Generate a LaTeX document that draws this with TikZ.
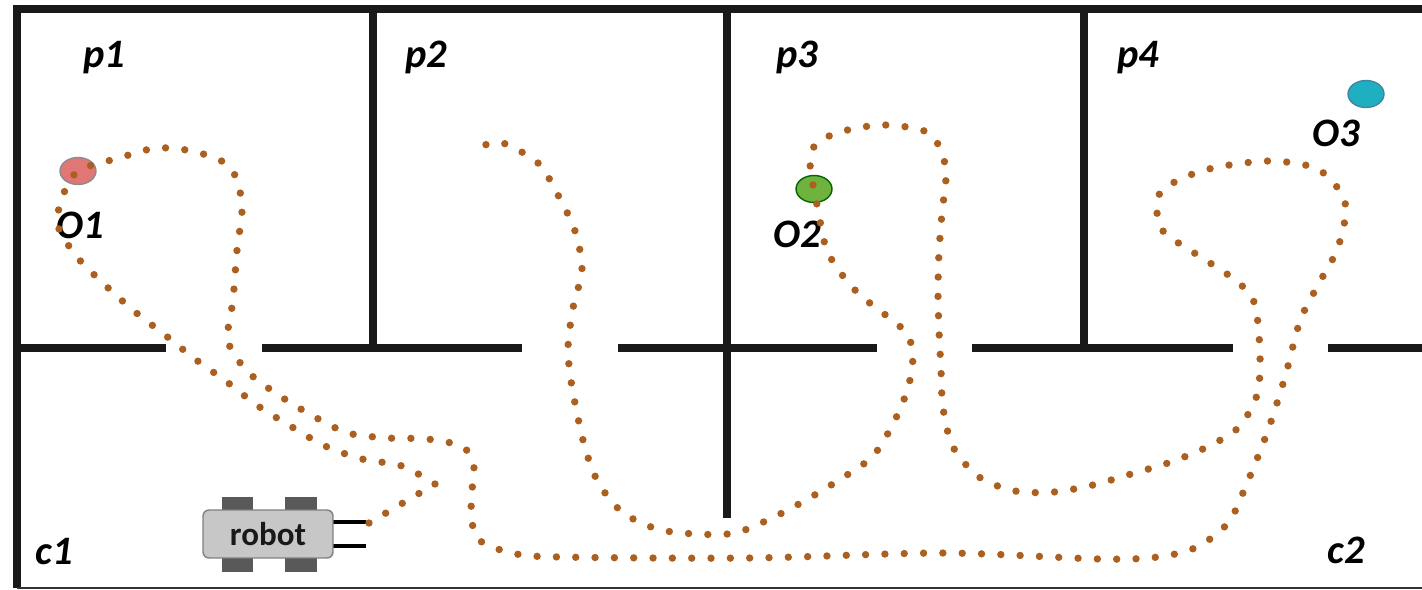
\documentclass[tikz,border=0pt]{standalone}
\usepackage{fontspec}
\setmainfont{Carlito}
\usetikzlibrary{positioning,shapes.geometric}

\definecolor{trailbrown}{RGB}{172,96,32}
\definecolor{o1red}{RGB}{224,118,118}
\definecolor{o2green}{RGB}{112,178,62}
\definecolor{o3cyan}{RGB}{30,176,192}

\begin{document}
\begin{tikzpicture}[x=0.02cm, y=-0.02cm,
  wall/.style={line width=4.6pt, color=black!90},
  tag/.style={font=\fontsize{23}{24}\selectfont\bfseries\itshape, inner sep=0pt, anchor=base west},
  obj/.style={ellipse, draw, line width=0.8pt, minimum width=0.72cm, minimum height=0.54cm, inner sep=0pt},
  trail/.style={line width=4.2pt, line cap=round, dash pattern=on 0pt off 11pt, color=trailbrown},
  wheel/.style={fill=black!65}]

\fill[white] (0,0) rectangle (1422,590);
\useasboundingbox (0,0) rectangle (1422,590);

% outer walls
\draw[wall, line join=miter] (17,588) -- (17,9) -- (1422,9);
\draw[line width=1.2pt, black!80] (17,588) -- (1422,588);

% room walls
\draw[wall] (373,9) -- (373,348);
\draw[wall] (727,9) -- (727,518);
\draw[wall] (1084,9) -- (1084,348);
\draw[wall] (17,348) -- (166,348);
\draw[wall] (262,348) -- (522,348);
\draw[wall] (618,348) -- (877,348);
\draw[wall] (972,348) -- (1233,348);
\draw[wall] (1328,348) -- (1422,348);

% room and corridor names
\node[tag] (p1) at (83,68) {p1};
\node[tag] (p2) at (405,68) {p2};
\node[tag] (p3) at (776,68) {p3};
\node[tag] (p4) at (1117,68) {p4};
\node[tag] (c1) at (35,564) {c1};
\node[tag] (c2) at (1327,563) {c2};

% objects
\node[obj, fill=o1red, draw=black!45] (o1) at (78,171) {};
\node[obj, fill=o2green, draw=black!60!green] (o2) at (814,189) {};
\node[obj, fill=o3cyan, draw=black!40!cyan] (o3) at (1366,94) {};
\node[tag] (o1name) at (56,239) {O1};
\node[tag] (o2name) at (773,248) {O2};
\node[tag] (o3name) at (1312,147) {O3};

% robot
\fill[wheel] (222,497) rectangle (253,511);
\fill[wheel] (285,497) rectangle (317,511);
\fill[wheel] (222,557) rectangle (253,572);
\fill[wheel] (285,557) rectangle (317,572);
\draw[line width=2.8pt] (330,522) -- (366,522);
\draw[line width=2.8pt] (330,546) -- (366,546);
\node[draw=black!50, fill=black!22, line width=0.8pt, rounded corners=0.12cm,
      minimum width=2.6cm, minimum height=0.96cm,
      font=\fontsize{18.8}{20}\selectfont\bfseries, text=black!90] (robot) at (268,534) {robot};
\coordinate (start) at (369,523);
\coordinate (turn) at (435,484);

% trail of the robot
\draw[trail] (start) -- (turn);
\draw[trail] plot[smooth] coordinates {
  (turn) (402,466) (362,459) (325,446) (292,427) (258,406) (227,382)
  (195,359) (165,335) (134,311) (105,285) (77,257) (58,226) (62,198)
  (o1.center) (119,158) (157,148) (196,152) (230,167) (242,204) (237,250)
  (233,300) (228,341) (248,372) (280,396) (313,416) (348,433) (388,438)
  (427,439) (463,447) (474,468) (471,502) (477,538) (512,553) (560,557)
  (750,558) (943,553) (1100,559) (1158,557) (1197,547) (1228,523)
  (1245,488) (1267,433) (1285,377) (1300,321) (1318,285) (1337,250)
  (1346,213) (1342,195) (1330,179) (1313,167) (1275,161) (1236,164)
  (1198,172) (1163,189) (1157,207) (1160,227) (1174,240) (1207,261)
  (1239,283) (1255,305) (1260,355) (1257,395) (1238,428) (1205,448)
  (1168,463) (1131,474) (1093,485) (1054,492) (1015,491) (979,477)
  (953,447) (943,408) (941,370) (939,330) (938,292) (939,252) (942,213)
  (946,170) (935,139) (918,129) (880,125) (840,132) (815,145) (810,170)
  (o2.center) (818,210) (826,248) (840,272) (860,295) (892,320) (907,334)
  (913,355) (908,388) (893,424) (872,457) (839,480) (806,500) (772,518)
  (735,533) (696,534) (657,529) (622,512) (598,482) (584,444) (572,387)
  (568,348) (573,308) (582,269) (575,231) (558,195) (538,163) (503,143)
  (485,145)};

\end{tikzpicture}
\end{document}
